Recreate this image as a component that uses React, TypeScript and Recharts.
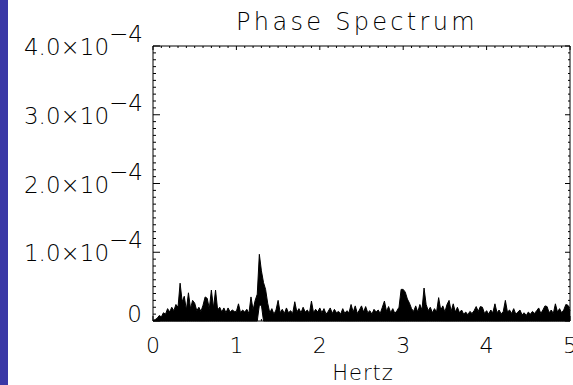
import React from 'react';
import { ComposedChart, Area, Line, XAxis, YAxis } from 'recharts';

const FONT = '"DejaVu Sans", "Liberation Sans", sans-serif';
const WEIGHT = 200;

const title = 'Phase Spectrum';
const xLabel = 'Hertz';
const xMajorTicks = [0, 1, 2, 3, 4, 5];
// y values are stored in units of 1e-5
const yMajorTicks = [0, 10, 20, 30, 40];
const yTickLabels = ['0', '1.0×10', '2.0×10', '3.0×10', '4.0×10'];
const yTickExponent = '−4';

const STEP_HZ = 0.025;

// spectrum values (×1e-5), one every 0.025 Hz
const power0to1 = [
  0.1, 0.2, 0.4, 0.8, 0.6, 1.2, 1.0, 1.8, 1.3, 2.0,
  1.5, 2.4, 2.0, 5.5, 2.8, 3.6, 1.6, 4.1, 1.8, 3.0,
  2.6, 1.5, 2.0, 1.4, 2.3, 3.5, 3.3, 1.8, 4.5, 1.9,
  4.5, 1.6, 2.0, 1.3, 1.9, 1.2, 1.9, 1.3, 1.6, 1.4,
];
const power1to2 = [
  1.4, 2.5, 1.2, 1.6, 1.3, 1.7, 1.1, 3.5, 1.6, 3.0,
  3.9, 9.7, 7.3, 5.6, 4.6, 2.6, 1.2, 1.8, 1.0, 1.6,
  3.0, 1.2, 1.7, 1.1, 1.9, 1.2, 1.5, 1.1, 2.8, 1.3,
  1.8, 1.2, 2.0, 1.3, 1.6, 1.1, 2.9, 1.2, 1.7, 1.3,
];
const power2to3 = [
  1.9, 1.2, 1.8, 1.0, 1.4, 1.9, 1.1, 1.7, 1.2, 1.4,
  1.0, 1.8, 1.1, 1.5, 1.2, 2.4, 1.3, 2.2, 1.1, 1.6,
  2.2, 1.3, 2.1, 1.2, 1.5, 1.0, 1.7, 1.3, 1.6, 1.1,
  2.0, 2.9, 1.4, 2.1, 1.2, 1.8, 1.1, 1.5, 2.0, 4.6,
];
const power3to4 = [
  4.6, 4.2, 3.2, 2.6, 1.8, 1.4, 2.2, 1.3, 2.4, 1.6,
  4.8, 2.4, 1.5, 2.0, 1.2, 1.8, 1.3, 3.4, 1.6, 2.2,
  1.3, 2.4, 3.0, 1.4, 2.5, 1.3, 2.0, 1.2, 1.6, 1.0,
  1.3, 0.9, 1.4, 1.1, 1.5, 2.1, 1.4, 2.1, 2.0, 1.1,
];
const power4to5 = [
  1.5, 1.0, 1.6, 1.2, 2.5, 1.2, 1.6, 1.0, 1.4, 3.0,
  1.3, 1.6, 1.1, 1.8, 1.0, 1.3, 1.6, 0.9, 1.2, 0.8,
  1.3, 1.0, 1.4, 1.1, 1.5, 1.9, 1.1, 1.6, 2.2, 2.1,
  1.2, 1.6, 1.1, 2.5, 1.3, 1.8, 1.2, 1.6, 2.4, 2.3,
  1.5,
];

// lower envelope lifted near the 1.3 Hz peak (white notch under it)
const notchHz = [1.275, 1.3];
const notchFloor = [2.3, 2.3];

const power = [...power0to1, ...power1to2, ...power2to3, ...power3to4, ...power4to5];

const data = power.map((p, i) => {
  const hz = Math.round(i * STEP_HZ * 1000) / 1000;
  const k = notchHz.indexOf(hz);
  const low = k >= 0 ? notchFloor[k] : 0;
  return { hz, p, range: [low, p] };
});

const xAllTicks: number[] = [];
for (let i = 0; i <= 50; i++) xAllTicks.push(Math.round(i) / 10);
const yAllTicks: number[] = [];
for (let i = 0; i <= 40; i++) yAllTicks.push(i);

const isXMajor = (v: number) => xMajorTicks.indexOf(v) >= 0;

function BottomTick(props: any) {
  const { x, y, payload } = props;
  const v = payload.value;
  const major = isXMajor(v);
  return (
    <g>
      <line x1={x} x2={x} y1={y} y2={y - (major ? 5 : 2)} stroke="#000" />
      {major && (
        <text x={x} y={y + 32} textAnchor="middle" fontSize={22} fontFamily={FONT} fontWeight={WEIGHT} fill="#000">
          {String(v)}
        </text>
      )}
    </g>
  );
}

function TopTick(props: any) {
  const { x, y, payload } = props;
  const major = isXMajor(payload.value);
  return <line x1={x} x2={x} y1={y} y2={y + (major ? 4 : 2)} stroke="#000" />;
}

function LeftTick(props: any) {
  const { x, y, payload } = props;
  const v = payload.value;
  const idx = yMajorTicks.indexOf(v);
  const major = idx >= 0;
  let label = null;
  if (major) {
    if (v === 0) {
      label = (
        <text x={x - 11} y={y + 1} textAnchor="end" fontSize={23} fontFamily={FONT} fontWeight={WEIGHT} fill="#000">
          {yTickLabels[idx]}
        </text>
      );
    } else {
      label = (
        <text x={x - 10} y={y + 9} textAnchor="end" fontSize={23} fontFamily={FONT} fontWeight={WEIGHT} fill="#000">
          <tspan>{yTickLabels[idx]}</tspan>
          <tspan dy={-13}>{yTickExponent}</tspan>
        </text>
      );
    }
  }
  return (
    <g>
      <line x1={x} x2={x + (major ? 7 : 3)} y1={y} y2={y} stroke="#000" />
      {label}
    </g>
  );
}

function RightTick(props: any) {
  const { x, y, payload } = props;
  const major = yMajorTicks.indexOf(payload.value) >= 0;
  return <line x1={x} x2={x - (major ? 5 : 2)} y1={y} y2={y} stroke="#000" />;
}

export default function App() {
  return (
    <div
      style={{
        position: 'absolute',
        left: 0,
        top: 0,
        width: 573,
        height: 385,
        background: '#fff',
        overflow: 'hidden',
      }}
    >
      <div style={{ position: 'absolute', left: 0, top: 0, width: 8, height: 385, background: '#3a38a6' }} />
      <ComposedChart
        width={573}
        height={385}
        data={data}
        margin={{ top: 16, right: 0, bottom: 34, left: 93 }}
      >
        <XAxis
          dataKey="hz"
          type="number"
          domain={[0, 5]}
          ticks={xAllTicks}
          interval={0}
          height={30}
          tickSize={0}
          tickMargin={0}
          tickLine={false}
          axisLine={{ stroke: '#000' }}
          tick={<BottomTick />}
        />
        <XAxis
          xAxisId="top"
          orientation="top"
          dataKey="hz"
          type="number"
          domain={[0, 5]}
          ticks={xAllTicks}
          interval={0}
          height={30}
          tickSize={0}
          tickMargin={0}
          tickLine={false}
          axisLine={{ stroke: '#000' }}
          tick={<TopTick />}
        />
        <YAxis
          type="number"
          domain={[0, 40]}
          ticks={yAllTicks}
          interval={0}
          width={60}
          tickSize={0}
          tickMargin={0}
          tickLine={false}
          axisLine={{ stroke: '#000' }}
          tick={<LeftTick />}
        />
        <YAxis
          yAxisId="right"
          orientation="right"
          type="number"
          domain={[0, 40]}
          ticks={yAllTicks}
          interval={0}
          width={3}
          tickSize={0}
          tickMargin={0}
          tickLine={false}
          axisLine={{ stroke: '#000' }}
          tick={<RightTick />}
        />
        <Area
          type="linear"
          dataKey="range"
          stroke="#000"
          strokeWidth={1}
          fill="#000"
          fillOpacity={1}
          dot={false}
          activeDot={false}
          isAnimationActive={false}
        />
        <Line
          xAxisId="top"
          yAxisId="right"
          dataKey="p"
          stroke="none"
          dot={false}
          activeDot={false}
          isAnimationActive={false}
        />
      </ComposedChart>
      <svg
        width={573}
        height={385}
        style={{ position: 'absolute', left: 0, top: 0, pointerEvents: 'none' }}
      >
        <text x={357} y={30} textAnchor="middle" fontSize={24} fontFamily={FONT} fontWeight={WEIGHT} letterSpacing={3.3} fill="#000">
          {title}
        </text>
        <text x={363} y={380} textAnchor="middle" fontSize={21} fontFamily={FONT} fontWeight={WEIGHT} letterSpacing={1} fill="#000">
          {xLabel}
        </text>
      </svg>
    </div>
  );
}
